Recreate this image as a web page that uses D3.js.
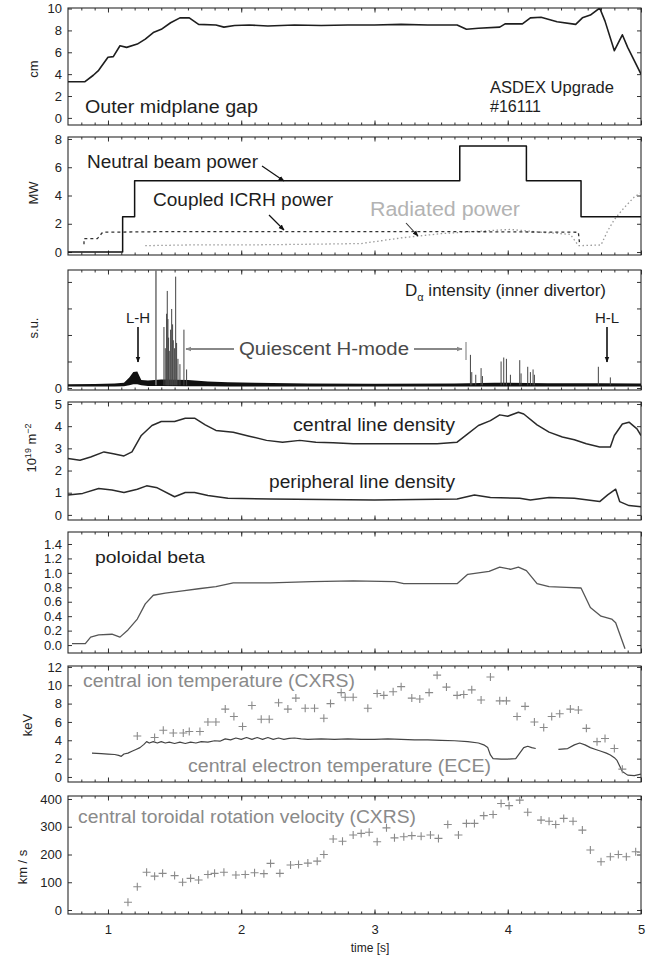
<!DOCTYPE html>
<html>
<head>
<meta charset="utf-8">
<script src="https://cdn.jsdelivr.net/npm/d3@7"></script>
<style>
  body { margin: 0; background: #fff; }
</style>
</head>
<body>
<div id="vis"></div>
<script>
// ---- data ----
const timeTicks = [1, 2, 3, 4, 5];
const gapTicks = [0, 2, 4, 6, 8, 10];
const powerTicks = [0, 2, 4, 6, 8];
const dalphaTicks = [0, 1, 2, 3, 4];
const densityTicks = [0, 1, 2, 3, 4, 5];
const betaTicks = [0, 0.2, 0.4, 0.6, 0.8, 1.0, 1.2, 1.4];
const tempTicks = [0, 2, 4, 6, 8, 10, 12];
const rotTicks = [0, 100, 200, 300, 400];

// outer midplane gap [s, cm]
const midplaneGap = [[0.7,3.3],[0.825,3.3],[0.89,3.9],[0.93,4.35],[1.0,5.55],[1.04,5.6],[1.09,6.6],[1.14,6.45],
  [1.22,6.75],[1.28,7.2],[1.34,7.8],[1.4,8.1],[1.47,8.7],[1.54,9.15],[1.61,9.15],[1.68,8.55],[1.81,8.5],[1.87,8.3],
  [1.95,8.45],[2.06,8.5],[2.2,8.4],[2.4,8.5],[2.6,8.45],[2.8,8.5],[3.0,8.5],[3.2,8.55],[3.4,8.5],[3.62,8.5],
  [3.69,8.1],[3.78,8.2],[3.94,8.3],[3.98,8.6],[4.11,8.6],[4.17,9.15],[4.25,9.2],[4.37,8.8],[4.51,8.55],[4.56,9.15],
  [4.62,9.4],[4.69,10.05],[4.73,8.85],[4.8,6.15],[4.86,7.6],[4.9,6.45],[5.0,4.0]];

// heating / radiated power [s, MW]
const nbiPower = [[0.7,0],[1.11,2.5],[1.2,5.05],[3.64,7.5],[4.14,5.05],[4.55,2.5],[5.0,2.5]];
const icrhPower = [[0.82,0.55],[0.82,0.95],[0.92,0.95],[0.96,1.4],[1.5,1.45],[2.5,1.45],[3.5,1.45],[4.53,1.4],[4.54,0.5]];
const radPower = [[1.28,0.45],[1.6,0.5],[2.0,0.5],[2.5,0.55],[2.9,0.6],[3.2,1.0],[3.5,1.3],[3.74,1.45],[4.02,1.6],
  [4.25,1.4],[4.47,1.25],[4.53,0.45],[4.7,0.5],[4.75,1.5],[4.8,2.3],[4.87,3.1],[4.95,3.9],[5.0,4.2]];

// D-alpha: baseline band [s, low, high] and spikes [s, height]
const dalphaBand = [[0.7,0.06,0.14],[0.9,0.06,0.15],[1.05,0.06,0.17],[1.12,0.07,0.2],[1.16,0.1,0.4],[1.19,0.14,0.6],
  [1.22,0.14,0.62],[1.25,0.1,0.3],[1.3,0.08,0.28],[1.4,0.08,0.32],[1.6,0.07,0.3],[1.75,0.07,0.25],[1.9,0.06,0.22],
  [2.1,0.06,0.2],[2.5,0.06,0.17],[3.0,0.06,0.16],[3.6,0.06,0.17],[3.9,0.06,0.2],[4.3,0.06,0.18],[4.7,0.06,0.18],[5.0,0.06,0.17]];
const dalphaSpikes = [[1.36,4.45],[1.42,2.3],[1.43,1.5],[1.44,2.8],[1.445,3.66],[1.45,2.6],[1.455,1.9],[1.46,1.4],
  [1.47,2.2],[1.478,2.98],[1.485,2.4],[1.49,1.8],[1.5,1.5],[1.508,4.2],[1.515,1.7],[1.525,1.1],[1.54,0.9],[1.57,2.2],
  [1.59,0.7],[3.72,1.25],[3.73,0.6],[3.76,0.5],[3.8,0.75],[3.81,0.45],[3.95,1.0],[3.97,1.15],[3.99,1.1],[4.02,0.5],
  [4.09,1.05],[4.1,0.55],[4.15,0.8],[4.17,0.6],[4.19,0.7],[4.2,0.5],[4.68,0.8],[4.77,0.4]];

// line densities [s, 10^19 m^-2]
const centralDensity = [[0.7,2.54],[0.79,2.46],[0.87,2.61],[0.97,2.84],[1.04,2.76],[1.12,2.66],[1.18,2.84],[1.25,3.58],
  [1.33,4.03],[1.4,4.21],[1.5,4.21],[1.58,4.36],[1.65,4.36],[1.73,4.06],[1.81,3.81],[1.94,3.73],[2.06,3.55],[2.19,3.36],
  [2.31,3.28],[2.44,3.36],[2.56,3.28],[2.69,3.25],[2.84,3.21],[3.15,3.21],[3.47,3.21],[3.62,3.28],[3.69,3.61],[3.78,4.03],
  [3.87,4.25],[3.94,4.51],[4.0,4.45],[4.08,4.63],[4.12,4.55],[4.22,4.06],[4.31,3.73],[4.41,3.51],[4.5,3.39],[4.59,3.21],
  [4.69,3.06],[4.77,3.06],[4.8,3.58],[4.86,4.1],[4.91,4.18],[4.97,3.88],[5.0,3.58]];
const peripheralDensity = [[0.7,0.9],[0.81,0.97],[0.93,1.19],[1.03,1.12],[1.12,1.01],[1.22,1.16],[1.29,1.31],[1.37,1.22],
  [1.5,0.82],[1.58,1.01],[1.65,1.01],[1.75,0.87],[1.9,0.75],[2.22,0.72],[3.0,0.67],[3.62,0.72],[3.75,0.9],[3.87,0.78],
  [4.09,0.75],[4.17,0.67],[4.31,0.78],[4.5,0.75],[4.69,0.6],[4.75,0.9],[4.81,1.16],[4.84,0.6],[4.91,0.42],[5.0,0.37]];

// poloidal beta [s, -]
const poloidalBeta = [[0.73,0.02],[0.83,0.02],[0.87,0.11],[0.93,0.14],[1.03,0.15],[1.09,0.11],[1.15,0.21],[1.22,0.36],
  [1.28,0.57],[1.34,0.69],[1.43,0.72],[1.56,0.75],[1.68,0.78],[1.81,0.81],[1.94,0.86],[2.22,0.86],[2.53,0.88],[2.84,0.89],
  [3.15,0.88],[3.22,0.85],[3.62,0.85],[3.7,0.98],[3.78,1.0],[3.86,1.02],[3.94,1.08],[4.02,1.05],[4.08,1.08],[4.14,1.03],
  [4.22,0.85],[4.31,0.81],[4.44,0.8],[4.55,0.79],[4.62,0.52],[4.7,0.4],[4.78,0.36],[4.81,0.31],[4.88,-0.05]];

// temperatures [s, keV]
const ionTemp = [[1.22,4.47],[1.35,4.3],[1.415,5.1],[1.49,4.8],[1.565,4.8],[1.61,4.95],[1.69,4.95],[1.75,6.0],[1.81,6.0],
  [1.88,7.4],[1.945,6.6],[2.01,5.5],[2.08,7.8],[2.15,6.3],[2.21,6.3],[2.28,8.1],[2.35,7.4],[2.41,8.6],[2.48,7.5],[2.55,7.5],
  [2.62,6.4],[2.67,8.0],[2.75,9.2],[2.78,8.7],[2.84,8.7],[2.95,7.5],[3.02,9.1],[3.07,8.9],[3.14,9.3],[3.2,9.85],[3.28,8.6],
  [3.34,8.5],[3.41,9.2],[3.47,11.1],[3.54,9.8],[3.62,8.9],[3.67,9.0],[3.73,9.5],[3.8,8.4],[3.87,10.9],[3.94,8.3],[3.99,8.3],
  [4.07,6.6],[4.13,7.7],[4.2,6.0],[4.27,5.4],[4.33,6.6],[4.39,6.9],[4.47,7.4],[4.53,7.3],[4.59,5.3],[4.67,3.85],[4.73,4.2],
  [4.8,3.1],[4.86,0.85]];
const eceEarly = [[0.88,2.6],[0.95,2.55],[1.0,2.5],[1.05,2.45],[1.08,2.35],[1.1,2.25],[1.12,2.5],[1.15,2.6],[1.18,2.8],
  [1.21,3.0],[1.24,3.2],[1.27,3.55],[1.29,3.85],[1.31,3.7],[1.34,3.85],[1.37,3.7],[1.4,3.85],[1.43,3.7],[1.46,3.8],
  [1.5,3.65],[1.54,3.8],[1.58,3.65],[1.62,3.8],[1.66,3.7],[1.7,3.85],[1.75,3.8],[1.8,3.95],[1.84,3.9],[1.88,4.15],
  [1.92,4.05],[1.96,4.25],[2.0,4.1],[2.04,4.3],[2.08,4.1],[2.12,4.3],[2.16,4.1],[2.2,4.3],[2.24,4.1],[2.28,4.25],
  [2.32,4.1],[2.36,4.2],[2.4,4.25],[2.45,4.15],[2.5,4.1],[2.6,4.15],[2.7,4.1],[2.8,4.15],[2.9,4.1],[3.0,4.1],[3.1,4.15],
  [3.2,4.1],[3.3,4.05],[3.4,4.05],[3.5,4.0],[3.6,3.95],[3.7,3.85],[3.78,3.7],[3.82,3.5],[3.85,3.2],[3.87,2.4],[3.89,2.0],
  [3.95,1.95],[4.0,1.95],[4.06,2.0],[4.09,2.6],[4.12,3.2],[4.15,3.35],[4.18,3.2],[4.21,3.1]];
const eceLate = [[4.38,3.0],[4.45,3.1],[4.5,3.5],[4.54,3.7],[4.58,3.5],[4.62,3.2],[4.66,3.0],[4.7,2.8],[4.74,2.6],[4.77,2.4],
  [4.8,2.1],[4.82,1.8],[4.84,1.2],[4.86,0.6],[4.9,0.2],[4.95,0.15],[5.0,0.3]];

// central toroidal rotation [s, km/s]
const rotation = [[1.15,28],[1.22,84],[1.29,136],[1.35,122],[1.41,132],[1.5,124],[1.56,100],[1.62,114],[1.68,108],
  [1.75,128],[1.8,132],[1.87,136],[1.96,126],[2.03,128],[2.1,134],[2.17,131],[2.22,168],[2.29,132],[2.37,162],[2.43,164],
  [2.5,169],[2.57,176],[2.62,200],[2.69,256],[2.76,248],[2.84,270],[2.9,276],[2.96,280],[3.02,246],[3.09,296],[3.15,260],
  [3.22,264],[3.28,268],[3.35,266],[3.42,270],[3.48,258],[3.55,308],[3.63,270],[3.69,312],[3.75,312],[3.82,340],[3.89,344],
  [3.95,384],[4.01,376],[4.09,396],[4.15,352],[4.25,324],[4.31,320],[4.36,308],[4.42,330],[4.49,320],[4.56,288],[4.62,216],
  [4.7,174],[4.77,192],[4.83,200],[4.89,192],[4.96,210],[5.0,208]];

// ---- drawing ----
const FONT = '"Liberation Sans", Arial, Helvetica, sans-serif';
const width = 648, height = 957;

const svg = d3.select("#vis").append("svg")
    .attr("width", width)
    .attr("height", height)
    .style("display", "block")
    .attr("font-family", FONT);

const defs = svg.append("defs");
[["head", "#111"], ["headGray", "#888"]].forEach(([id, c]) => {
    defs.append("marker")
        .attr("id", id)
        .attr("viewBox", "0 0 10 10")
        .attr("refX", 9).attr("refY", 5)
        .attr("markerWidth", 6).attr("markerHeight", 6)
        .attr("markerUnits", "userSpaceOnUse")
        .attr("orient", "auto")
        .append("path").attr("d", "M0,1 L10,5 L0,9 Z").attr("fill", c);
});

const x = d3.scaleLinear().domain([0.7, 5]).range([68, 641]);
const minorTimes = d3.range(8, 50).map(i => i / 10);

function tidy(sel) {
    sel.select(".domain").remove();
    sel.selectAll("line").attr("stroke", "#333");
    sel.attr("font-family", FONT).attr("font-size", 13);
    sel.selectAll("text").attr("fill", "#222");
}

let clipId = 0;
function panel(top, bottom, domain, ticks, fmt) {
    const y = d3.scaleLinear().domain(domain).range([bottom, top]);
    const g = svg.append("g");
    const id = "clip" + (clipId++);
    defs.append("clipPath").attr("id", id)
        .append("rect").attr("x", 68).attr("y", top).attr("width", 573).attr("height", bottom - top);

    [[d3.axisBottom(x).tickValues(minorTimes).tickSize(-2.5), bottom],
     [d3.axisBottom(x).tickValues(timeTicks).tickSize(-4.5), bottom],
     [d3.axisTop(x).tickValues(minorTimes).tickSize(-2.5), top],
     [d3.axisTop(x).tickValues(timeTicks).tickSize(-4.5), top]]
        .forEach(([a, yy]) => g.append("g")
            .attr("transform", `translate(0,${yy})`)
            .call(a.tickFormat(""))
            .call(tidy));

    g.append("g")
        .attr("transform", "translate(68,0)")
        .call(d3.axisLeft(y).tickValues(ticks).tickSize(-4).tickPadding(6).tickFormat(fmt))
        .call(tidy);
    g.append("g")
        .attr("transform", "translate(641,0)")
        .call(d3.axisRight(y).tickValues(ticks).tickSize(-4).tickFormat(""))
        .call(tidy);

    g.append("rect")
        .attr("x", 68).attr("y", top)
        .attr("width", 573).attr("height", bottom - top)
        .attr("fill", "none").attr("stroke", "#2a2a2a").attr("stroke-width", 1.1);

    const plot = svg.append("g").attr("clip-path", `url(#${id})`);
    return { y, plot };
}

function drawLine(p, data, stroke, w, dash, curve) {
    const line = d3.line().x(d => x(d[0])).y(d => p.y(d[1])).curve(curve || d3.curveLinear);
    p.plot.append("path")
        .datum(data)
        .attr("d", line)
        .attr("fill", "none")
        .attr("stroke", stroke)
        .attr("stroke-width", w)
        .attr("stroke-linejoin", "round")
        .attr("stroke-dasharray", dash || null);
}

function drawCrosses(p, data, stroke, s) {
    p.plot.append("g").selectAll("path")
        .data(data)
        .join("path")
        .attr("d", d => `M${x(d[0]) - s},${p.y(d[1])}h${2 * s}M${x(d[0])},${p.y(d[1]) - s}v${2 * s}`)
        .attr("stroke", stroke)
        .attr("stroke-width", 1.1)
        .attr("fill", "none");
}

function label(txt, px, py, size, fill, len, anchor) {
    const t = svg.append("text")
        .attr("x", px).attr("y", py)
        .attr("font-size", size)
        .attr("fill", fill)
        .attr("text-anchor", anchor || "start")
        .text(txt);
    if (len) t.attr("textLength", len).attr("lengthAdjust", "spacingAndGlyphs");
    return t;
}

function ylabel(px, py) {
    return svg.append("text")
        .attr("transform", `translate(${px},${py}) rotate(-90)`)
        .attr("text-anchor", "middle")
        .attr("font-size", 13)
        .attr("fill", "#222");
}

function arrow(x1, y1, x2, y2, stroke, w, marker) {
    svg.append("line")
        .attr("x1", x1).attr("y1", y1).attr("x2", x2).attr("y2", y2)
        .attr("stroke", stroke).attr("stroke-width", w)
        .attr("marker-end", `url(#${marker})`);
}

// panel 1: outer midplane gap
const p1 = panel(8, 125, [-0.65, 10.05], gapTicks, d3.format("d"));
drawLine(p1, midplaneGap, "#1e1e1e", 1.6);
ylabel(38, 69).text("cm");
label("Outer midplane gap", 85, 113, 18, "#1e1e1e", 173);
label("ASDEX Upgrade", 490, 93, 16, "#1e1e1e", 124);
label("#16111", 490, 112, 16, "#1e1e1e", 51);

// panel 2: powers
const p2 = panel(137, 255, [-0.21, 8.14], powerTicks, d3.format("d"));
drawLine(p2, radPower, "#9a9a9a", 1.3, "1.5,2.5");
drawLine(p2, icrhPower, "#333", 1.3, "3,3");
drawLine(p2, nbiPower, "#111", 1.5, null, d3.curveStepAfter);
ylabel(38, 193).text("MW");
label("Neutral beam power", 87, 168, 18, "#1e1e1e", 171);
label("Coupled ICRH power", 153, 206, 18, "#1e1e1e", 180);
label("Radiated power", 370, 216, 20, "#b3b3b3", 150);
arrow(262, 166, 284, 181, "#111", 1.2, "head");
arrow(269, 215, 284, 230, "#111", 1.2, "head");
arrow(406, 223, 418, 236, "#333", 1.1, "head");

// panel 3: D-alpha
const p3 = panel(270, 390, [-0.075, 4.45], dalphaTicks, d => d === 0 ? "0" : "");
p3.plot.append("path")
    .datum(dalphaBand)
    .attr("d", d3.area().x(d => x(d[0])).y0(d => p3.y(d[1])).y1(d => p3.y(d[2])))
    .attr("fill", "#111");
p3.plot.append("g").selectAll("line")
    .data(dalphaSpikes)
    .join("line")
    .attr("x1", d => x(d[0])).attr("x2", d => x(d[0]))
    .attr("y1", p3.y(0.1)).attr("y2", d => p3.y(d[1]))
    .attr("stroke", (d, i) => i === 0 ? "#777" : "#444")
    .attr("stroke-width", (d, i) => i === 0 ? 1.6 : 1);
ylabel(38, 328).text("s.u.");
const dLabel = svg.append("text").attr("x", 405).attr("y", 296).attr("font-size", 17).attr("fill", "#1e1e1e");
dLabel.append("tspan").text("D");
dLabel.append("tspan").attr("dy", 5).attr("font-size", 11).text("α");
dLabel.append("tspan").attr("dy", -5).text(" intensity (inner divertor)");
label("L-H", 138, 323, 15, "#1e1e1e", null, "middle");
label("H-L", 607, 323, 15, "#1e1e1e", null, "middle");
arrow(138, 327, 138, 362, "#111", 1.6, "head");
arrow(607, 327, 607, 362, "#111", 1.6, "head");
label("Quiescent H-mode", 239, 355, 18, "#4a4a4a", 170);
arrow(234, 349, 186, 349, "#888", 2, "headGray");
arrow(414, 349, 462, 349, "#888", 2, "headGray");
svg.append("line").attr("x1", 466).attr("x2", 466).attr("y1", 342).attr("y2", 360)
    .attr("stroke", "#777").attr("stroke-width", 1);

// panel 4: line densities
const p4 = panel(402, 520, [-0.23, 5.09], densityTicks, d3.format("d"));
drawLine(p4, centralDensity, "#2a2a2a", 1.5);
drawLine(p4, peripheralDensity, "#2a2a2a", 1.5);
const dens = ylabel(36, 448);
dens.append("tspan").text("10");
dens.append("tspan").attr("dy", -5).attr("font-size", 9).text("19");
dens.append("tspan").attr("dy", 5).text(" m");
dens.append("tspan").attr("dy", -5).attr("font-size", 9).text("−2");
label("central line density", 293, 431, 18, "#1e1e1e", 162);
label("peripheral line density", 269, 488, 18, "#1e1e1e", 186);

// panel 5: poloidal beta
const p5 = panel(532, 653, [-0.11, 1.566], betaTicks, d3.format(".1f"));
drawLine(p5, poloidalBeta, "#555", 1.3);
label("poloidal beta", 95, 563, 17, "#1e1e1e", 110);

// panel 6: temperatures
const p6 = panel(666, 782, [-0.55, 12.1], tempTicks, d3.format("d"));
drawLine(p6, eceEarly, "#444", 1.2);
drawLine(p6, eceLate, "#444", 1.2);
drawCrosses(p6, ionTemp, "#8a8a8a", 4);
ylabel(32, 725).text("keV");
label("central ion temperature (CXRS)", 83, 687, 18, "#8a8a8a", 272);
label("central electron temperature (ECE)", 188, 772, 18, "#8a8a8a", 303);

// panel 7: toroidal rotation
const p7 = panel(796, 914, [-14.4, 410.8], rotTicks, d3.format("d"));
drawCrosses(p7, rotation, "#8a8a8a", 4);
ylabel(27, 867).text("km / s");
label("central toroidal rotation velocity (CXRS)", 78, 823, 18, "#8a8a8a", 338);

// time axis labels
svg.append("g")
    .attr("transform", "translate(0,914)")
    .call(d3.axisBottom(x).tickValues(timeTicks).tickSize(0).tickPadding(11).tickFormat(d3.format("d")))
    .call(tidy);
label("time [s]", 370, 952, 12, "#222", null, "middle");
</script>
</body>
</html>
